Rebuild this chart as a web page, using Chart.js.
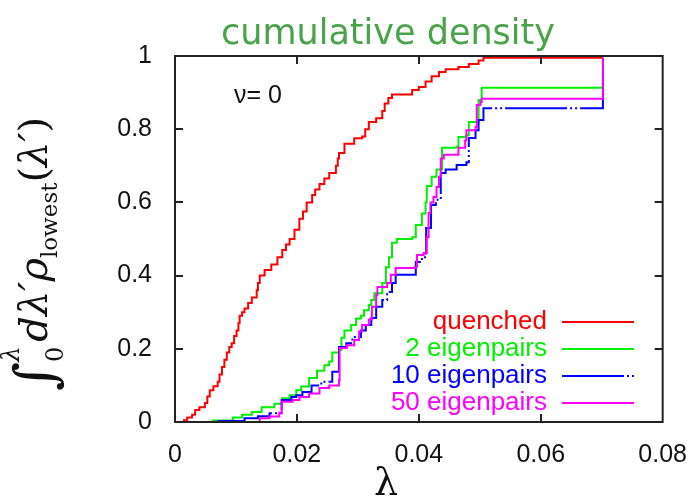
<!DOCTYPE html>
<html>
<head>
<meta charset="utf-8">
<script src="https://cdn.jsdelivr.net/npm/chart.js@4/dist/chart.umd.min.js"></script>
<style>
  html, body { margin: 0; padding: 0; background: #fff; }
  #cdf { display: block; }
</style>
</head>
<body>
<canvas id="cdf" width="697" height="503"></canvas>
<script>
// values (lambda, cumulative fraction)
const quenchedLambda = [0.0013,0.0020,0.0028,0.0033,0.0040,0.0049,0.0053,0.0057,0.0063,0.0070,0.0073,0.0077,0.0081,0.0085,0.0089,0.0093,0.0097,0.0101,0.0104,0.0106,0.0110,0.0114,0.0120,0.0126,0.0134,0.0136,0.0139,0.0147,0.0158,0.0168,0.0176,0.0182,0.0188,0.0196,0.0204,0.0210,0.0216,0.0225,0.0230,0.0237,0.0245,0.0253,0.0264,0.0267,0.0269,0.0278,0.0294,0.0307,0.0312,0.0318,0.0330,0.0340,0.0344,0.0350,0.0356,0.0389,0.0400,0.0411,0.0421,0.0433,0.0444,0.0465,0.0482,0.0498,0.0506,0.0702];
const quenchedCdf    = [0.005,0.012,0.020,0.033,0.040,0.052,0.070,0.087,0.098,0.110,0.130,0.150,0.170,0.190,0.205,0.215,0.235,0.250,0.270,0.290,0.300,0.310,0.325,0.340,0.360,0.380,0.400,0.415,0.430,0.450,0.470,0.485,0.500,0.525,0.555,0.575,0.600,0.620,0.635,0.650,0.665,0.680,0.700,0.720,0.735,0.760,0.775,0.780,0.800,0.820,0.830,0.850,0.870,0.885,0.895,0.907,0.915,0.930,0.945,0.956,0.964,0.970,0.978,0.988,0.995,0.995];

const pairs2Lambda = [0.0060,0.0095,0.0110,0.0126,0.0142,0.0163,0.0176,0.0188,0.0199,0.0207,0.0220,0.0233,0.0245,0.0253,0.0258,0.0269,0.0273,0.0278,0.0289,0.0297,0.0305,0.0310,0.0318,0.0322,0.0327,0.0340,0.0346,0.0351,0.0356,0.0364,0.0389,0.0395,0.0405,0.0411,0.0413,0.0421,0.0429,0.0438,0.0462,0.0465,0.0478,0.0482,0.0498,0.0503,0.0702];
const pairs2Cdf    = [0.004,0.012,0.020,0.027,0.040,0.050,0.065,0.073,0.087,0.097,0.120,0.140,0.155,0.165,0.190,0.197,0.230,0.250,0.265,0.283,0.290,0.305,0.320,0.333,0.352,0.380,0.423,0.450,0.490,0.500,0.505,0.538,0.570,0.600,0.645,0.670,0.690,0.749,0.752,0.779,0.784,0.820,0.880,0.913,0.995];

const pairs10Lambda = [0.0070,0.0114,0.0136,0.0155,0.0175,0.0191,0.0199,0.0209,0.0224,0.0240,0.0258,0.0269,0.0281,0.0291,0.0305,0.0313,0.0322,0.0330,0.0340,0.0348,0.0356,0.0362,0.0395,0.0405,0.0412,0.0420,0.0428,0.0436,0.0444,0.0462,0.0478,0.0482,0.0493,0.0498,0.0506,0.0702];
const pairs10Cdf    = [0.003,0.010,0.016,0.024,0.060,0.068,0.073,0.082,0.100,0.110,0.137,0.205,0.215,0.232,0.250,0.265,0.284,0.315,0.333,0.355,0.380,0.402,0.437,0.450,0.530,0.593,0.607,0.680,0.690,0.702,0.710,0.776,0.797,0.825,0.857,0.995];

const pairs50Lambda = [0.0,0.0139,0.0155,0.0171,0.0175,0.0193,0.0204,0.0220,0.0237,0.0253,0.0269,0.0270,0.0282,0.0294,0.0302,0.0307,0.0318,0.0323,0.0330,0.0332,0.0348,0.0354,0.0362,0.0394,0.0397,0.0408,0.0413,0.0416,0.0419,0.0424,0.0429,0.0433,0.0436,0.0441,0.0465,0.0476,0.0478,0.0493,0.0495,0.0501,0.0503,0.0702];
const pairs50Cdf    = [0.0,0.010,0.015,0.025,0.055,0.060,0.068,0.078,0.093,0.100,0.115,0.202,0.210,0.224,0.247,0.265,0.280,0.315,0.347,0.369,0.380,0.402,0.421,0.424,0.456,0.462,0.505,0.571,0.600,0.615,0.642,0.670,0.720,0.730,0.749,0.770,0.797,0.806,0.866,0.874,0.883,0.995];

const seriesNames = ["quenched", "2 eigenpairs", "10 eigenpairs", "50 eigenpairs"];
const xTicks = [0, 0.02, 0.04, 0.06, 0.08];
const yTicks = [0, 0.2, 0.4, 0.6, 0.8, 1];

const toPoints = (xs, ys) => xs.map((x, i) => ({ x: x, y: ys[i] }));

// horizontal at the old level, then up at the new lambda
const lineSet = (label, xs, ys, color, order, dash) => ({
  label: label,
  data: toPoints(xs, ys),
  borderColor: color,
  backgroundColor: color,
  borderWidth: 2,
  borderDash: dash || [],
  pointRadius: 0,
  stepped: "before",
  fill: false,
  order: order,
});

// frame, inward ticks, title, axis titles and the legend
const decorations = {
  id: "decorations",
  afterDraw(chart) {
    const ctx = chart.ctx;
    const a = chart.chartArea;
    const xs = chart.scales.x, ys = chart.scales.y;
    ctx.save();

    ctx.strokeStyle = "#222";
    ctx.lineWidth = 2;
    ctx.strokeRect(a.left, a.top, a.right - a.left, a.bottom - a.top);
    ctx.beginPath();
    xTicks.slice(1, -1).forEach(v => {
      const px = Math.round(xs.getPixelForValue(v));
      ctx.moveTo(px, a.bottom); ctx.lineTo(px, a.bottom - 8);
      ctx.moveTo(px, a.top); ctx.lineTo(px, a.top + 8);
    });
    yTicks.slice(1, -1).forEach(v => {
      const py = Math.round(ys.getPixelForValue(v));
      ctx.moveTo(a.left, py); ctx.lineTo(a.left + 8, py);
      ctx.moveTo(a.right, py); ctx.lineTo(a.right - 8, py);
    });
    ctx.stroke();

    // title
    ctx.fillStyle = "#4aa34a";
    ctx.font = '35px "DejaVu Sans"';
    ctx.textAlign = "center";
    ctx.textBaseline = "alphabetic";
    ctx.fillText("cumulative density", 388, 44);

    // nu label
    ctx.fillStyle = "#111";
    ctx.font = '25px "Liberation Sans"';
    ctx.textAlign = "left";
    ctx.textBaseline = "middle";
    ctx.fillText("ν= 0", 234, 96);

    // x axis title
    ctx.font = '38px "DejaVu Serif"';
    ctx.textAlign = "center";
    ctx.fillText("λ", 386, 485);

    // y axis title, built from pieces
    const serif = '"DejaVu Serif"';
    const pieces = [
      { t: "∫", f: "56px " + serif, dy: 7 },
      { t: "λ", f: "italic 25px " + serif, dy: -28, stack: true },
      { t: "0", f: "24px " + serif, dy: 16 },
      { t: " ", f: "14px " + serif, dy: 0 },
      { t: "dλ′ρ", f: "italic 40px " + serif, dy: 0 },
      { t: "lowest", f: "23px " + serif, dy: 10 },
      { t: "(", f: "40px " + serif, dy: 0 },
      { t: "λ′", f: "italic 40px " + serif, dy: 0 },
      { t: ")", f: "40px " + serif, dy: 0 },
    ];
    let total = 0, stackW = 0;
    pieces.forEach(p => {
      ctx.font = p.f;
      p.w = ctx.measureText(p.t).width;
      if (p.stack) { stackW = p.w; return; }
      total += Math.max(p.w, stackW); stackW = 0;
    });
    ctx.translate(47, 254);
    ctx.rotate(-Math.PI / 2);
    ctx.textAlign = "left";
    ctx.textBaseline = "alphabetic";
    ctx.fillStyle = "#111";
    let cx = -total / 2; stackW = 0;
    pieces.forEach(p => {
      ctx.font = p.f;
      ctx.fillText(p.t, cx, p.dy);
      if (p.stack) { stackW = p.w; return; }
      cx += Math.max(p.w, stackW); stackW = 0;
    });
    ctx.setTransform(1, 0, 0, 1, 0, 0);

    // legend
    ctx.font = '26px "Liberation Sans"';
    ctx.textAlign = "right";
    ctx.textBaseline = "middle";
    const rows = [322, 349, 376, 403];
    chart.data.datasets.forEach((ds, i) => {
      ctx.fillStyle = ds.borderColor;
      ctx.fillText(ds.label, 547, rows[i]);
      ctx.strokeStyle = ds.borderColor;
      ctx.lineWidth = 2;
      ctx.setLineDash(ds.borderDash);
      ctx.beginPath();
      ctx.moveTo(562, rows[i]);
      ctx.lineTo(634, rows[i]);
      ctx.stroke();
      ctx.setLineDash([]);
    });

    ctx.restore();
  }
};

new Chart(document.getElementById("cdf"), {
  type: "line",
  data: {
    datasets: [
      lineSet(seriesNames[0], quenchedLambda, quenchedCdf, "#ff0000", 3),
      lineSet(seriesNames[1], pairs2Lambda, pairs2Cdf, "#00f000", 2),
      lineSet(seriesNames[2], pairs10Lambda, pairs10Cdf, "#0000ff", 1, [62, 3, 2, 3, 2, 3]),
      lineSet(seriesNames[3], pairs50Lambda, pairs50Cdf, "#ff00ff", 0),
    ],
  },
  options: {
    responsive: false,
    animation: false,
    layout: { padding: { left: 0, right: 32, top: 56, bottom: 0 } },
    plugins: {
      legend: { display: false },
      tooltip: { enabled: false },
      title: { display: false },
    },
    scales: {
      x: {
        type: "linear",
        min: 0,
        max: 0.08,
        afterBuildTicks: s => { s.ticks = xTicks.map(v => ({ value: v })); },
        afterFit: s => { s.height = 81; },
        grid: { display: false },
        border: { display: false },
        ticks: {
          padding: 10,
          color: "#111",
          font: { family: "Liberation Sans", size: 25 },
          callback: v => String(+v.toFixed(2)),
        },
      },
      y: {
        type: "linear",
        min: 0,
        max: 1,
        afterBuildTicks: s => { s.ticks = yTicks.map(v => ({ value: v })); },
        afterFit: s => { s.width = 175; },
        grid: { display: false },
        border: { display: false },
        ticks: {
          padding: 15,
          color: "#111",
          font: { family: "Liberation Sans", size: 25 },
          callback: v => String(+v.toFixed(1)),
        },
      },
    },
  },
  plugins: [decorations],
});
</script>
</body>
</html>
